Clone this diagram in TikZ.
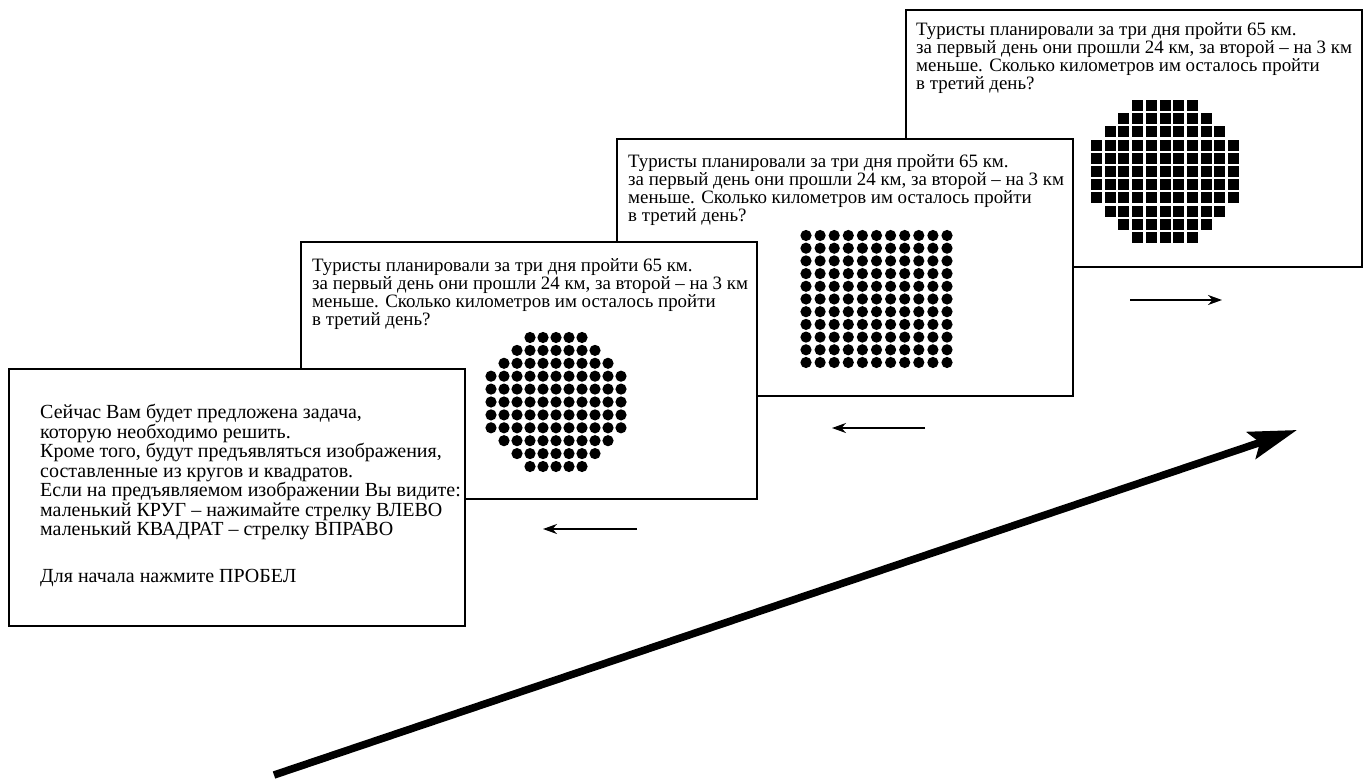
\documentclass[tikz,border=0pt]{standalone}
\usepackage{fontspec}
\setmainfont{Liberation Serif}
\usetikzlibrary{calc, arrows.meta}

\begin{document}
\begin{tikzpicture}[x=1pt, y=-1pt]
    % Define stimulus sizes
    \def\dotRadius{5.6pt}
    \def\boxHalf{5.5}

    \tikzset{
        screen/.style={draw, fill=white, line width=1.6pt, minimum width=456pt,
            minimum height=257pt, anchor=north west, inner sep=0pt},
        task/.style={anchor=north west, align=left, inner sep=0pt,
            font=\fontsize{18.9}{16.7}\selectfont},
        intro/.style={anchor=north west, align=left, inner sep=0pt,
            font=\fontsize{20}{19.5}\selectfont},
        keyArrow/.style={line width=2pt, -{Stealth[length=14pt, width=10pt]}},
        timeArrow/.style={line width=7.5pt, -{Stealth[length=48pt, width=28pt, inset=9pt]}}
    }

    \useasboundingbox (0,0) rectangle (1366,781);

    % Draw the screens, back to front
    \node[screen] (s4) at (905,9) {};
    \node[task] (t4) at ($(s4.north west)+(11,13)$) {Туристы планировали за три дня пройти 65 км.\\
        за первый день они прошли 24 км, за второй – на 3 км\\
        меньше. Сколько километров им осталось пройти\\
        в третий день?};
    \coordinate (c4) at ($(s4.north west)+(260,162.5)$);
    \foreach \row in {0,...,10}
        \foreach \col in {0,...,10} {
            \pgfmathtruncatemacro\dist{abs(\row-5)+abs(\col-5)}
            \ifnum\dist<8
                \fill ($(c4)+({(\col-5)*13.7},{(\row-5)*13.2})$)
                    +(-\boxHalf,-\boxHalf) rectangle +(\boxHalf,\boxHalf);
            \fi
        }

    \node[screen] (s3) at (616,138) {};
    \node[task] (t3) at ($(s3.north west)+(12,16)$) {Туристы планировали за три дня пройти 65 км.\\
        за первый день они прошли 24 км, за второй – на 3 км\\
        меньше. Сколько километров им осталось пройти\\
        в третий день?};
    \coordinate (c3) at ($(s3.north west)+(260.5,161)$);
    \foreach \row in {0,...,10}
        \foreach \col in {0,...,10}
            \fill ($(c3)+({(\col-5)*14.1},{(\row-5)*12.7})$) circle (\dotRadius);

    \node[screen] (s2) at (300,241) {};
    \node[task] (t2) at ($(s2.north west)+(12,17)$) {Туристы планировали за три дня пройти 65 км.\\
        за первый день они прошли 24 км, за второй – на 3 км\\
        меньше. Сколько километров им осталось пройти\\
        в третий день?};
    \coordinate (c2) at ($(s2.north west)+(256,161)$);
    \foreach \row in {0,...,10}
        \foreach \col in {0,...,10} {
            \pgfmathtruncatemacro\dist{abs(\row-5)+abs(\col-5)}
            \ifnum\dist<8
                \fill ($(c2)+({(\col-5)*13},{(\row-5)*12.9})$) circle (\dotRadius);
            \fi
        }

    \node[screen] (s1) at (8,368) {};
    \node[intro] (t1) at ($(s1.north west)+(32,36)$) {Сейчас Вам будет предложена задача,\\
        которую необходимо решить.\\
        Кроме того, будут предъявляться изображения,\\
        составленные из кругов и квадратов.\\
        Если на предъявляемом изображении Вы видите:\\
        маленький КРУГ – нажимайте стрелку ВЛЕВО\\
        маленький КВАДРАТ – стрелку ВПРАВО\\[27.5pt]
        Для начала нажмите ПРОБЕЛ};

    % Key presses
    \coordinate (k2a) at (637,529);
    \coordinate (k2b) at (543,529);
    \coordinate (k3a) at (925,428);
    \coordinate (k3b) at (832,428);
    \coordinate (k4a) at (1130,300);
    \coordinate (k4b) at (1222,300);
    \draw[keyArrow] (k2a) -- (k2b);
    \draw[keyArrow] (k3a) -- (k3b);
    \draw[keyArrow] (k4a) -- (k4b);

    % Time axis
    \coordinate (timeStart) at (274,775);
    \coordinate (timeEnd) at (1297,430);
    \draw[timeArrow] (timeStart) -- (timeEnd);

\end{tikzpicture}
\end{document}
